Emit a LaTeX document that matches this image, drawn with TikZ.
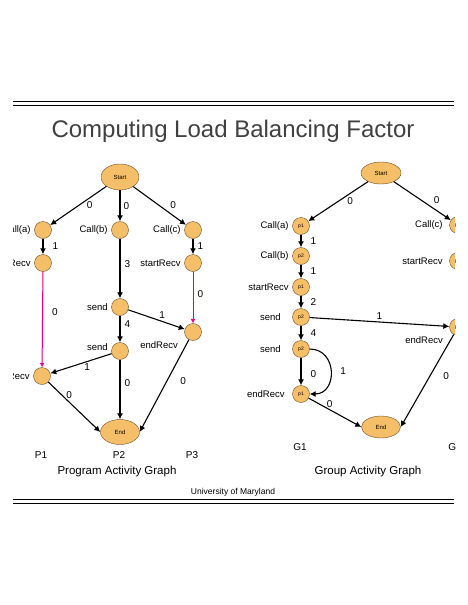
\documentclass[tikz,border=0pt]{standalone}
\usepackage{fontspec}
\setmainfont{Liberation Sans}
\usetikzlibrary{arrows, arrows.meta, shapes.geometric, positioning}
\definecolor{nodefill}{RGB}{245,190,105}
\definecolor{nodeline}{RGB}{110,80,40}
\definecolor{msgcol}{RGB}{220,0,130}
\definecolor{titlegray}{RGB}{64,64,64}

\begin{document}
\begin{tikzpicture}[x=1pt, y=-1pt, >={Latex[length=6pt, width=6pt]}, label distance=2.5pt,
  act/.style={circle, draw=nodeline, fill=nodefill, minimum size=17pt, inner sep=0pt, font=\fontsize{5}{5}\selectfont},
  term/.style={ellipse, draw=nodeline, fill=nodefill, inner sep=0pt, font=\fontsize{6}{6}\selectfont},
  nm/.style={font=\fontsize{9.5}{11}\selectfont, inner sep=1pt, text=black},
  num/.style={font=\fontsize{10}{12}\selectfont, inner sep=1pt, text=black},
  graphcap/.style={font=\fontsize{11.5}{13}\selectfont},
  flow/.style={->, line width=1.1pt},
  msg/.style={-{Latex[length=4.5pt, width=5pt]}, msgcol, line width=1pt}]
\useasboundingbox (0,0) rectangle (468,605);
\clip (13,0) rectangle (455,605);

\draw[line width=0.8pt] (13,101.7) -- (454,101.7) (13,105.3) -- (454,105.3);
\draw[line width=0.8pt] (13,499.3) -- (454,499.3) (13,503.3) -- (454,503.3);
\path (233,137) node[anchor=base, text=titlegray, font=\fontsize{24}{28}\selectfont] (title) {Computing Load Balancing Factor}
      (233,492) node[font=\fontsize{8.5}{10}\selectfont] (univ) {University of Maryland};

\path (120,177) node[term, minimum width=38pt, minimum height=26pt] (s0) {Start}
      (43,230) node[act, label={[nm]left:Call(a)}] (a1) {}
      (43,263) node[act, label={[nm]left:startRecv}] (a2) {}
      (42,376) node[act, label={[nm]left:endRecv}] (a3) {}
      (120,230) node[act, label={[nm]left:Call(b)}] (b1) {}
      (120,307) node[act, label={[nm]left:send}] (b2) {}
      (120,351) node[act, label={[nm, yshift=4pt]left:send}] (b3) {}
      (193,230) node[act, label={[nm]left:Call(c)}] (c1) {}
      (193,263) node[act, label={[nm]left:startRecv}] (c2) {}
      (193,332) node[act, label={[nm, xshift=-6pt]below left:endRecv}] (c3) {}
      (120,432) node[term, minimum width=39pt, minimum height=25pt] (e0) {End};

\draw[flow] (s0) -- node[num, pos=.3, below=2pt] {0} (a1);
\draw[flow] (s0) -- node[num, right=2pt] {0} (b1);
\draw[flow] (s0) -- node[num, pos=.65, above right=2pt] {0} (c1);
\draw[flow] (a1) -- node[num, right=8pt] {1} (a2);
\draw[flow] (b1) -- node[num, pos=.43, right=3pt] {3} (b2);
\draw[flow] (c1) -- node[num, right=3pt] {1} (c2);
\draw[msg] (a2) -- node[num, pos=.42, right=8pt] {0} (a3);
\draw[msg] (c2) -- node[num, pos=.43, right=3pt] {0} (c3);
\draw[flow] (b2) -- node[num, pos=.6, above=1pt] {1} (c3);
\draw[flow] (b2) -- node[num, pos=.31, right=3pt] {4} (b3);
\draw[flow] (b3) -- node[num, pos=.4, below=1pt] {1} (a3);
\draw[flow] (b3) -- node[num, pos=.39, right=3pt] {0} (e0);
\draw[flow] (c3) -- node[num, pos=.45, right=12pt] {0} (e0.east);
\draw[flow] (a3) -- node[num, pos=.4, above=2pt] {0} (e0.west);

\path (41,455.5) node[num] (p1) {P1}
      (119,455.5) node[num] (p2) {P2}
      (192,455.5) node[num] (p3) {P3}
      (117,472) node[graphcap] (pag) {Program Activity Graph};

\path (381,173) node[term, minimum width=40pt, minimum height=22pt] (t0) {Start}
      (301,226) node[act, label={[nm]left:Call(a)}] (g1) {p1}
      (301,256) node[act, label={[nm]left:Call(b)}] (g2) {p2}
      (301,287) node[act, label={[nm]left:startRecv}] (g3) {p1}
      (301,317) node[act, label={[nm, xshift=-8pt]left:send}] (g4) {p2}
      (301,349) node[act, label={[nm, xshift=-8pt]left:send}] (g5) {p2}
      (301,394) node[act, label={[nm, xshift=-4pt]left:endRecv}] (g6) {p1}
      (458,225) node[act, label={[nm, xshift=-3pt]left:Call(c)}] (h1) {p1}
      (458,261) node[act, label={[nm, xshift=-3pt]left:startRecv}] (h2) {p1}
      (458,327) node[act, label={[nm, xshift=-6pt]below left:endRecv}] (h3) {p1}
      (381,427) node[term, minimum width=39pt, minimum height=22pt] (f0) {End};

\draw[flow] (t0) -- node[num, pos=.3, below=2pt] {0} (g1);
\draw[flow] (t0) -- node[num, pos=.65, above right=2pt] {0} (h1);
\draw[flow] (g1) -- node[num, right=8pt] {1} (g2);
\draw[flow] (g2) -- node[num, right=8pt] {1} (g3);
\draw[flow] (g3) -- node[num, right=8pt] {2} (g4);
\draw[flow] (g4) -- node[num, above=1pt] {1} (h3);
\draw[flow] (g4) -- node[num, right=8pt] {4} (g5);
\draw[flow] (g5) -- node[num, pos=.6, right=8pt] {0} (g6);
\draw[flow] (g5.east) .. controls +(28,0) and +(28,0) .. node[num, right=8pt] {1} (g6.east);
\draw[flow] (g6) -- node[num, pos=.4, above=1pt] {0} (f0.west);
\draw[flow] (h3) -- node[num, pos=.45, right=12pt] {0} (f0.east);
\draw[flow] (h1) -- (h2);
\draw[msg] (h2) -- (h3);

\path (300,447) node[num] (q1) {G1}
      (455,447) node[num] (q2) {G2}
      (368,472) node[graphcap] (gag) {Group Activity Graph};
\end{tikzpicture}
\end{document}
